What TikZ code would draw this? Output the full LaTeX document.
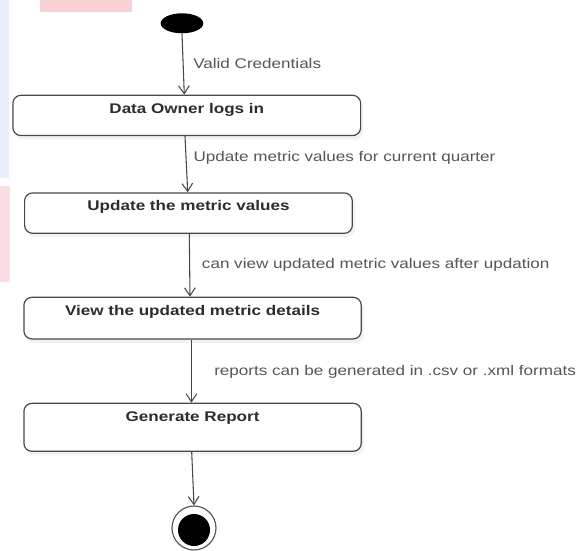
\documentclass[tikz,border=0pt]{standalone}
\usepackage{fontspec}
\setmainfont{Liberation Sans}[FakeStretch=1.22]
\usetikzlibrary{arrows.meta,shapes.geometric,shadows}

\begin{document}
\begin{tikzpicture}[x=0.75pt,y=0.75pt,yscale=-1,xscale=1,
    font=\fontsize{10.5pt}{12pt}\selectfont,
    actbox/.style={draw={rgb, 255:red, 72; green, 72; blue, 72}, line width=0.9pt, rounded corners=6pt,
        fill=white, anchor=north west, inner sep=0pt, text height=13.5pt,
        font=\fontsize{10.5pt}{12pt}\selectfont\bfseries, text={rgb, 255:red, 45; green, 45; blue, 45},
        drop shadow={shadow xshift=2pt, shadow yshift=-3pt, fill=black, opacity=0.05}},
    flow/.style={draw={rgb, 255:red, 70; green, 70; blue, 70}, line width=0.8pt,
        -{Straight Barb[length=6pt,width=8pt]}},
    guard/.style={anchor=west, inner sep=0pt, text={rgb, 255:red, 85; green, 85; blue, 85}}]
    \useasboundingbox (0,0) rectangle (585,550);
    % faint marks of the scan
    \fill [fill={rgb, 255:red, 249; green, 208; blue, 214}] (40,0) rectangle (132,12);
    \fill [fill={rgb, 255:red, 232; green, 238; blue, 252}] (0,0) rectangle (9,178);
    \fill [fill={rgb, 255:red, 250; green, 220; blue, 226}] (0,186) rectangle (10,282);
    % start / end
    \node [ellipse, fill=black, minimum width=32pt, minimum height=15pt, inner sep=0pt] (start) at (182,23.3) {};
    \node [circle, draw={rgb, 255:red, 90; green, 90; blue, 90}, line width=0.9pt, fill=white, minimum size=33pt, inner sep=0pt] (finish) at (194,528) {};
    \node [circle, fill=black, minimum size=24pt, inner sep=0pt] (finishdot) at (194,530) {};
    % activities
    \node [actbox, minimum width=260.8pt, minimum height=30.2pt, text depth=16.7pt] (login) at (12.3,94.7) {Data Owner logs in};
    \node [actbox, minimum width=245.8pt, minimum height=30.3pt, text depth=16.8pt] (update) at (24,192.3) {Update the metric values};
    \node [actbox, minimum width=253pt, minimum height=31.2pt, text depth=17.7pt] (view) at (23.3,296.7) {View the updated metric details};
    \node [actbox, minimum width=253pt, minimum height=36pt, text depth=22.5pt] (report) at (23.3,402.7) {Generate Report};
    % transitions
    \draw [flow] (start.south) -- (login.north -| 184.3,0);
    \draw [flow] (login.south -| 185,0) -- (update.north -| 187.7,0);
    \draw [flow] (update.south -| 189.3,0) -- (view.north -| 190,0);
    \draw [flow] (view.south -| 191.4,0) -- (report.north -| 191.4,0);
    \draw [flow] (report.south -| 191.7,0) -- (finish.north);
    % guards
    \node [guard] (g1) at (193,63.3) {Valid Credentials};
    \node [guard] (g2) at (193.3,158.3) {Update metric values for current quarter};
    \node [guard] (g3) at (201.7,265) {can view updated metric values after updation};
    \node [guard] (g4) at (214,371.7) {reports can be generated in .csv or .xml formats};
\end{tikzpicture}
\end{document}
